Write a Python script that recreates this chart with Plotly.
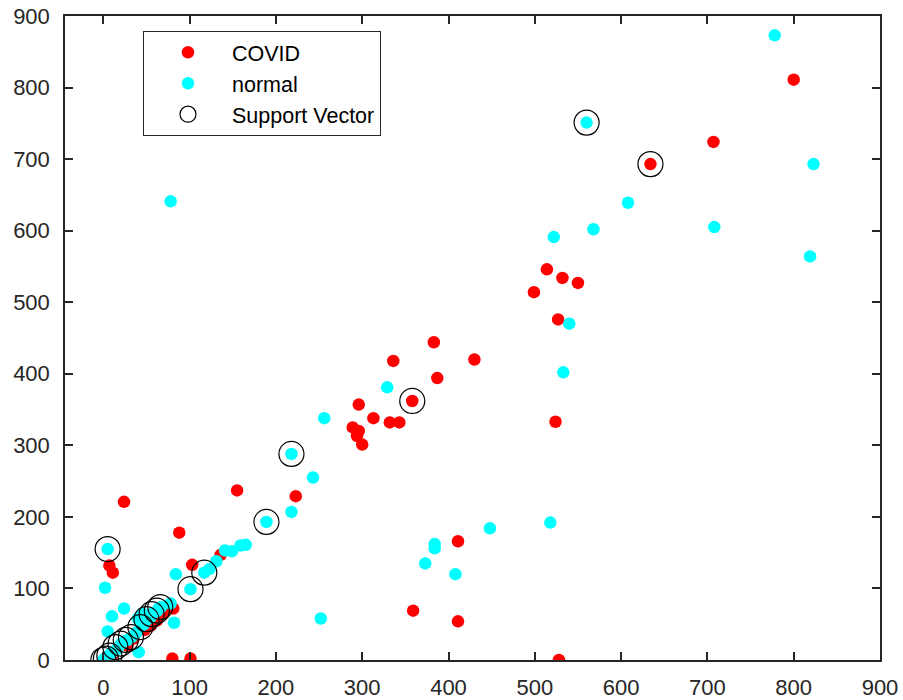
import plotly.graph_objects as go

# COVID class points (x, y)
covid_x = [800, 707, 634, 514, 532, 550, 499, 527, 430, 524, 383, 387, 336, 358, 296, 313, 332, 343,
           289, 296, 294, 300, 223, 155, 88, 24, 7, 11, 103, 136, 81, 80, 101, 359, 411, 411, 528,
           4, 10, 28, 35, 48, 55, 62, 70]
covid_y = [811, 724, 693, 546, 534, 527, 514, 476, 420, 333, 444, 394, 418, 362, 357, 338, 332, 332,
           325, 320, 313, 301, 229, 237, 178, 221, 132, 122, 133, 147, 72, 2, 2, 69, 54, 166, 0,
           1, 6, 20, 30, 42, 48, 55, 65]

# normal class points (x, y)
normal_x = [778, 560, 823, 708, 819, 608, 568, 522, 540, 533, 329, 256, 218, 243, 218, 189, 78,
            252, 384, 384, 373, 408, 448, 518, 165, 159, 149, 141, 131, 123, 117, 101, 84, 5, 2,
            24, 10, 5, 41, 82, 78,
            0, 3, 5, 8, 12, 16, 20, 24, 28, 33, 38, 43, 47, 50, 55, 57, 62, 64, 67, 45, 40]
normal_y = [873, 751, 693, 605, 564, 639, 602, 591, 470, 402, 381, 338, 288, 255, 207, 193, 641,
            58, 162, 156, 135, 120, 184, 192, 161, 160, 152, 153, 138, 127, 122, 99, 120, 155, 101,
            72, 61, 40, 11, 52, 79,
            0, 3, 5, 8, 12, 15, 22, 26, 28, 32, 38, 46, 50, 56, 60, 65, 68, 72, 74, 65, 58]

# support vectors (x, y)
sv_x = [0, 3, 7, 14, 20, 26, 32, 43, 50, 56, 62, 66, 5, 101, 117, 189, 218, 358, 560, 634]
sv_y = [0, 2, 6, 18, 23, 28, 32, 46, 57, 64, 69, 74, 155, 99, 122, 193, 288, 362, 751, 693]

x_ticks = [0, 100, 200, 300, 400, 500, 600, 700, 800, 900]
y_ticks = [0, 100, 200, 300, 400, 500, 600, 700, 800, 900]

axis_color = "#262626"
font_family = "Liberation Sans, Arial, sans-serif"

fig = go.Figure()
fig.add_trace(go.Scatter(x=covid_x, y=covid_y, mode="markers", name="COVID",
                         marker=dict(color="#FF0000", size=12.5, line=dict(width=0))))
fig.add_trace(go.Scatter(x=normal_x, y=normal_y, mode="markers", name="normal",
                         marker=dict(color="#00FFFF", size=12.5, line=dict(width=0))))
fig.add_trace(go.Scatter(x=sv_x, y=sv_y, mode="markers", name="Support Vector",
                         marker=dict(symbol="circle-open", color="black", size=25,
                                     line=dict(width=1.2, color="black"))))

axis_common = dict(
    showgrid=False, zeroline=False, showline=True, linecolor=axis_color, linewidth=1.5,
    mirror="ticks", ticks="inside", ticklen=8, tickwidth=1.5, tickcolor=axis_color,
    tickfont=dict(family=font_family, size=22, color=axis_color), automargin=False,
    ticklabeloverflow="allow",
)

fig.update_xaxes(range=[-44.4, 900], tickvals=x_ticks, ticktext=[str(v) for v in x_ticks],
                 ticklabelstandoff=7, **axis_common)
fig.update_yaxes(range=[0, 900], tickvals=y_ticks, ticktext=[str(v) for v in y_ticks],
                 ticklabelstandoff=9, **axis_common)

fig.update_layout(
    width=903, height=700,
    margin=dict(l=65, r=23, t=16, b=40),
    paper_bgcolor="white", plot_bgcolor="white",
    font=dict(family=font_family, color="black"),
    showlegend=True,
    legend=dict(x=0.0957, y=0.977, xanchor="left", yanchor="top",
                bgcolor="white", bordercolor=axis_color, borderwidth=1,
                font=dict(family=font_family, size=21.5, color="black"),
                itemwidth=78, tracegroupgap=0),
)

fig.write_html("out.html", config={"displayModeBar": False},
               post_script="document.body.style.margin='0';")
